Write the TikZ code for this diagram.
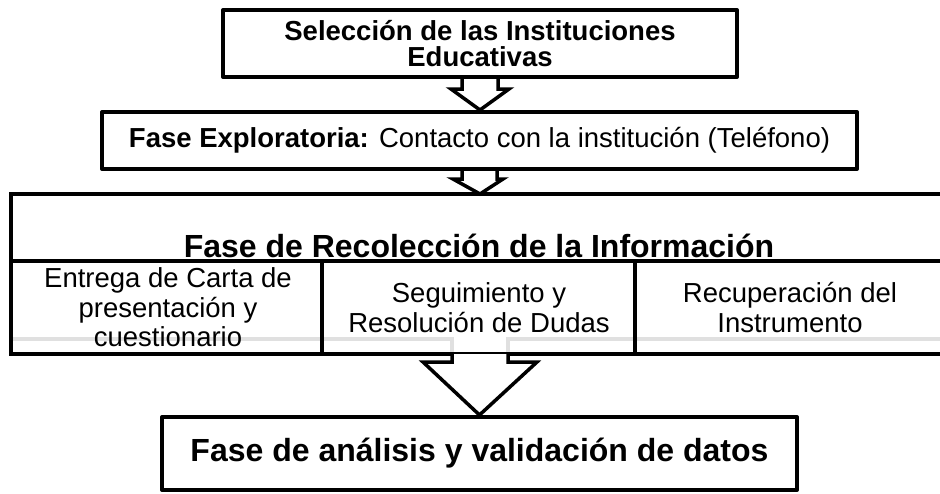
\documentclass[tikz,border=0pt]{standalone}
\usepackage{fontspec}
\setmainfont{Liberation Sans}
\usetikzlibrary{calc}
\tikzset{
  box/.style={draw=black, line width=4pt, line join=round, fill=white, inner sep=0pt, align=center},
  blockarrow/.style={draw=black, line width=3.5pt, line join=miter, fill=white},
  tabline/.style={draw=black, line width=3.5pt},
  shadowline/.style={draw=black!12, line width=4.5pt},
  cell/.style={inner sep=0pt, align=center, font=\fontsize{27.5}{29.5}\selectfont},
}
\begin{document}
\begin{tikzpicture}[x=1pt, y=-1pt]
\useasboundingbox (0,0) rectangle (940,493);

% top box
\node[box, minimum width=514pt, minimum height=67pt, font=\fontsize{27.5}{26.5}\selectfont\bfseries] (b1) at (480,43.5)
  {Selección de las Instituciones\\Educativas};

% second box
\node[box, minimum width=755pt, minimum height=57pt, font=\fontsize{27.5}{30}\selectfont] (b2) at (479.5,140.5)
  {\textbf{Fase Exploratoria:} Contacto con la institución (Teléfono)};

% arrow 1
\draw[blockarrow] ($(b1.south)+(-18,0)$) -- ++(0,10) -- ++(-11,0) -- ($(b2.north)+(0.5,0)$)
  -- ($(b1.south)+(29,10)$) -- ++(-11,0) -- ++(0,-10);

% grey outline of the lower arrow seen through the table
\coordinate (gl) at (11,339);
\coordinate (gr) at (940,339);
\draw[shadowline, line join=miter] (gl) -- (452,339) -- (452,354);
\draw[shadowline, line join=miter] (gr) -- (508,339) -- (508,354);

% table (collection phase)
\coordinate (tl) at (11,194);
\coordinate (sep) at (11,261);
\coordinate (bl) at (11,354);
\draw[tabline] (940,194) -- (tl) -- (bl) -- (940,354);
\draw[tabline] (sep) -- (940,261);
\draw[tabline] (322,261) -- (322,354);
\draw[tabline] (635,261) -- (635,354);

% arrow 2
\draw[blockarrow] ($(b2.south)+(-17.5,0)$) -- ++(0,8) -- ++(-9,0) -- (480,194)
  -- ($(b2.south)+(23.5,8)$) -- ++(-6,0) -- ++(0,-8);

\node[inner sep=0pt, anchor=base, font=\fontsize{32}{34}\selectfont\bfseries] (title) at (479,257)
  {Fase de Recolección de la Información};

\node[cell] (c1) at (168,307.5) {Entrega de Carta de\\presentación y\\cuestionario};
\node[cell] (c2) at (479,307.5) {Seguimiento y\\Resolución de Dudas};
\node[cell] (c3) at (790,307.5) {Recuperación del\\Instrumento};

% bottom box
\node[box, minimum width=635pt, minimum height=73pt, font=\fontsize{32}{34}\selectfont\bfseries] (b4) at (479.5,453.5)
  {Fase de análisis y validación de datos};

% arrow 3
\draw[blockarrow] (452,354) -- (452,362) -- (423,362) -- (b4.north)
  -- (537,362) -- (508,362) -- (508,354);
\end{tikzpicture}
\end{document}
